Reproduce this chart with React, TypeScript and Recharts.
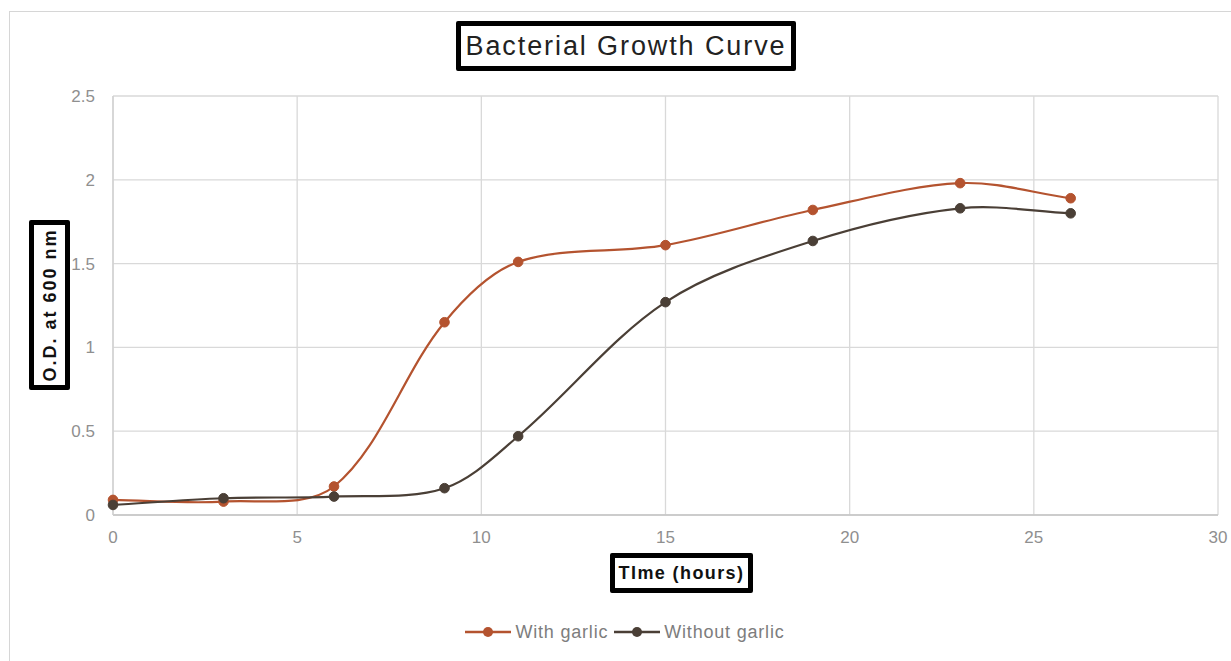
import React from "react";
import { LineChart, Line, XAxis, YAxis, CartesianGrid } from "recharts";

const hours = [0, 3, 6, 9, 11, 15, 19, 23, 26];
const withGarlic = [0.09, 0.08, 0.17, 1.15, 1.51, 1.61, 1.82, 1.98, 1.89];
const withoutGarlic = [0.06, 0.1, 0.11, 0.16, 0.47, 1.27, 1.635, 1.83, 1.8];
const xTicks = [0, 5, 10, 15, 20, 25, 30];
const yTicks = [0, 0.5, 1, 1.5, 2, 2.5];
const seriesNames = ["With garlic", "Without garlic"];
const seriesColors = ["#B4532F", "#4A3F36"];

const data = hours.map((h, i) => ({ h, a: withGarlic[i], b: withoutGarlic[i] }));

// Excel-like smooth curve (chord-weighted Catmull-Rom through points)
const excelCurve = (context: any) => {
  let pts: number[][] = [];
  const dist = (a: number[], b: number[]) => Math.hypot(a[0] - b[0], a[1] - b[1]);
  return {
    areaStart() {},
    areaEnd() {},
    lineStart() {
      pts = [];
    },
    point(x: number, y: number) {
      pts.push([+x, +y]);
    },
    lineEnd() {
      if (!pts.length) return;
      context.moveTo(pts[0][0], pts[0][1]);
      for (let i = 0; i < pts.length - 1; i++) {
        const p0 = pts[Math.max(0, i - 1)];
        const p1 = pts[i];
        const p2 = pts[i + 1];
        const p3 = pts[Math.min(pts.length - 1, i + 2)];
        const d01 = dist(p0, p1);
        const d12 = dist(p1, p2);
        const d23 = dist(p2, p3);
        const f1 = d01 + d12 > 0 ? d12 / (d01 + d12) / 3 : 0;
        const f2 = d12 + d23 > 0 ? d12 / (d12 + d23) / 3 : 0;
        const c1x = p1[0] + (p2[0] - p0[0]) * f1;
        const c1y = p1[1] + (p2[1] - p0[1]) * f1;
        const c2x = p2[0] - (p3[0] - p1[0]) * f2;
        const c2y = p2[1] - (p3[1] - p1[1]) * f2;
        context.bezierCurveTo(c1x, c1y, c2x, c2y, p2[0], p2[1]);
      }
    },
  };
};

const font = "'Liberation Sans', Arial, Helvetica, sans-serif";

export default function App() {
  return (
    <div style={{ position: "absolute", left: 0, top: 0, width: 1231, height: 661, overflow: "hidden", background: "#fff" }}>
      <div style={{ position: "absolute", left: 9, top: 11, width: 1300, height: 800, border: "1.5px solid #d6d6d6" }} />
      <div style={{ position: "absolute", left: 0, top: 0 }}>
        <LineChart width={1231} height={661} data={data} margin={{ top: 96, right: 13, bottom: 116, left: 73 }}>
          <CartesianGrid stroke="#d9d9d9" strokeWidth={1.3} />
          <XAxis
            dataKey="h"
            type="number"
            domain={[0, 30]}
            ticks={xTicks}
            tickLine={false}
            axisLine={{ stroke: "#c4c4c4", strokeWidth: 1.5 }}
            tick={{ fill: "#8f8f8f", fontSize: 17, fontFamily: font }}
            tickMargin={10}
            height={30}
            interval={0}
          />
          <YAxis
            type="number"
            domain={[0, 2.5]}
            ticks={yTicks}
            tickLine={false}
            axisLine={{ stroke: "#d0d0d0", strokeWidth: 1.3 }}
            tick={{ fill: "#8f8f8f", fontSize: 17, fontFamily: font }}
            tickMargin={12}
            width={40}
            interval={0}
          />
          <Line
            dataKey="a"
            name={seriesNames[0]}
            type={excelCurve as any}
            stroke={seriesColors[0]}
            strokeWidth={2.2}
            dot={{ r: 4.8, fill: seriesColors[0], stroke: seriesColors[0], strokeWidth: 1 }}
            activeDot={false}
            isAnimationActive={false}
          />
          <Line
            dataKey="b"
            name={seriesNames[1]}
            type={excelCurve as any}
            stroke={seriesColors[1]}
            strokeWidth={2.2}
            dot={{ r: 4.8, fill: seriesColors[1], stroke: seriesColors[1], strokeWidth: 1 }}
            activeDot={false}
            isAnimationActive={false}
          />
        </LineChart>
      </div>
      <div
        style={{
          position: "absolute", left: 0, top: 620, width: 1250, height: 24,
          display: "flex", justifyContent: "center", alignItems: "center",
          fontFamily: font, fontSize: 18, letterSpacing: 0.8, color: "#7d7d7d",
        }}
      >
        {seriesNames.map((n, i) => (
          <div key={n} style={{ display: "flex", alignItems: "center", marginRight: i === 0 ? 6 : 0 }}>
            <svg width={46} height={14} style={{ marginRight: 4 }}>
              <line x1={0} y1={7} x2={46} y2={7} stroke={seriesColors[i]} strokeWidth={2.4} />
              <circle cx={23} cy={7} r={5} fill={seriesColors[i]} />
            </svg>
            <span>{n}</span>
          </div>
        ))}
      </div>
      <div
        style={{
          position: "absolute", left: 456, top: 21, width: 340, height: 50, boxSizing: "border-box",
          border: "5px solid #000", borderRadius: 2, display: "flex", alignItems: "center", justifyContent: "center",
          fontFamily: font, fontSize: 27, letterSpacing: 1.9, color: "#222", background: "#fff", whiteSpace: "nowrap",
        }}
      >
        Bacterial Growth Curve
      </div>
      <div
        style={{
          position: "absolute", left: 29, top: 220, width: 41, height: 170, boxSizing: "border-box",
          border: "5px solid #000", borderRadius: 2, background: "#fff",
        }}
      >
        <div
          style={{
            position: "absolute", left: "50%", top: "50%", transform: "translate(-50%, -50%) rotate(-90deg)",
            whiteSpace: "nowrap", fontFamily: font, fontSize: 18, fontWeight: "bold", letterSpacing: 2, color: "#111",
          }}
        >
          O.D. at 600 nm
        </div>
      </div>
      <div
        style={{
          position: "absolute", left: 610, top: 553, width: 143, height: 40, boxSizing: "border-box",
          border: "5px solid #000", borderRadius: 2, display: "flex", alignItems: "center", justifyContent: "center",
          fontFamily: font, fontSize: 18, fontWeight: "bold", letterSpacing: 1.4, color: "#111", background: "#fff",
          whiteSpace: "nowrap",
        }}
      >
        TIme (hours)
      </div>
    </div>
  );
}
